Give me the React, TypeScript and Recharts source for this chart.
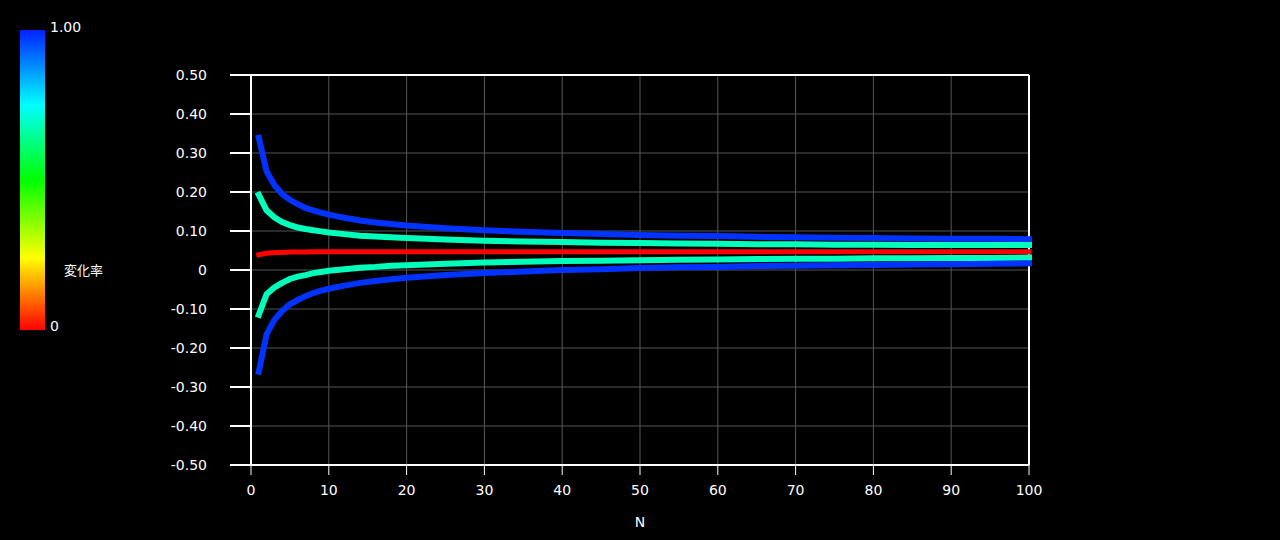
import { LineChart, Line, XAxis, YAxis, CartesianGrid, ReferenceLine } from 'recharts'

// sample sizes along the x axis
const nValues = [1, 2, 3, 4, 5, 6, 7, 8, 9, 10, 12, 14, 16, 18, 20, 25, 30, 35, 40, 45, 50, 55, 60, 65, 70, 75, 80, 85, 90, 95, 100]

// red centre line
const center = [0.039, 0.043, 0.045, 0.045, 0.046, 0.046, 0.046, 0.047, 0.047, 0.047, 0.047, 0.047, 0.047, 0.047, 0.047, 0.047, 0.047, 0.047, 0.047, 0.047, 0.047, 0.047, 0.047, 0.047, 0.047, 0.047, 0.047, 0.047, 0.047, 0.047, 0.047]

// outer (blue) band
const blueUpper = [0.339, 0.253, 0.218, 0.195, 0.180, 0.169, 0.159, 0.153, 0.147, 0.142, 0.134, 0.127, 0.122, 0.118, 0.114, 0.107, 0.102, 0.098, 0.095, 0.092, 0.090, 0.088, 0.087, 0.085, 0.084, 0.083, 0.082, 0.081, 0.080, 0.080, 0.079]
const blueLower = [-0.261, -0.165, -0.128, -0.105, -0.088, -0.077, -0.067, -0.059, -0.053, -0.048, -0.040, -0.033, -0.028, -0.024, -0.020, -0.013, -0.008, -0.004, 0.000, 0.002, 0.005, 0.007, 0.008, 0.010, 0.011, 0.012, 0.013, 0.014, 0.015, 0.016, 0.017]

// inner (green) band
const greenUpper = [0.193, 0.153, 0.135, 0.123, 0.115, 0.109, 0.105, 0.102, 0.099, 0.096, 0.092, 0.088, 0.086, 0.084, 0.082, 0.078, 0.075, 0.073, 0.072, 0.070, 0.069, 0.068, 0.067, 0.066, 0.066, 0.065, 0.065, 0.064, 0.064, 0.064, 0.064]
const greenLower = [-0.115, -0.062, -0.045, -0.033, -0.023, -0.017, -0.013, -0.008, -0.005, -0.002, 0.002, 0.006, 0.008, 0.011, 0.012, 0.016, 0.019, 0.021, 0.023, 0.024, 0.025, 0.026, 0.027, 0.028, 0.029, 0.029, 0.030, 0.030, 0.031, 0.031, 0.032]

const xTicks = [0, 10, 20, 30, 40, 50, 60, 70, 80, 90, 100]
const yTicks = [-0.5, -0.4, -0.3, -0.2, -0.1, 0, 0.1, 0.2, 0.3, 0.4, 0.5]

const data = nValues.map((n, i) => ({
  n,
  center: center[i],
  blueUpper: blueUpper[i],
  blueLower: blueLower[i],
  greenUpper: greenUpper[i],
  greenLower: greenLower[i],
}))

const font = '"DejaVu Sans", sans-serif'
const tickStyle = { fill: '#ffffff', fontSize: 14, fontFamily: font }

const BLUE = '#0033ff'
const GREEN = '#00ffbb'
const RED = '#ff0000'

export default function App() {
  return (
    <div style={{ position: 'fixed', left: 0, top: 0, width: 1280, height: 540, background: '#000', overflow: 'hidden', fontFamily: font }}>
      {/* colour scale legend */}
      <div
        style={{
          position: 'absolute',
          left: 20,
          top: 30,
          width: 25,
          height: 300,
          background: 'linear-gradient(to bottom, #0022ff 0%, #00ffff 25%, #00ff00 50%, #ffff00 76%, #ff0000 100%)',
        }}
      />
      <div style={{ position: 'absolute', left: 50, top: 19, color: '#fff', fontSize: 14 }}>1.00</div>
      <div style={{ position: 'absolute', left: 50, top: 318, color: '#fff', fontSize: 14 }}>0</div>
      <div style={{ position: 'absolute', left: 64, top: 260, color: '#fff', fontSize: 13, fontFamily: '"Noto Sans CJK JP", sans-serif' }}>変化率</div>

      <div style={{ position: 'absolute', left: 0, top: 0 }}>
        <LineChart width={1280} height={540} data={data} margin={{ top: 75, right: 251, bottom: 0, left: 0 }}>
          <CartesianGrid stroke="#555555" strokeWidth={1} />
          <XAxis
            type="number"
            dataKey="n"
            domain={[0, 100]}
            ticks={xTicks}
            tick={tickStyle}
            tickSize={10}
            tickMargin={10}
            height={75}
            stroke="#ffffff"
            tickLine={{ stroke: '#ffffff' }}
            axisLine={{ stroke: '#ffffff', strokeWidth: 2 }}
          />
          <YAxis
            type="number"
            domain={[-0.5, 0.5]}
            ticks={yTicks}
            tickFormatter={(v: number) => (v === 0 ? '0' : v.toFixed(2))}
            tick={tickStyle}
            tickSize={21}
            tickMargin={23}
            width={251}
            stroke="#ffffff"
            tickLine={{ stroke: '#ffffff', strokeWidth: 2 }}
            axisLine={{ stroke: '#ffffff', strokeWidth: 2 }}
          />
          <ReferenceLine y={0.5} stroke="#ffffff" strokeWidth={2} />
          <ReferenceLine x={100} stroke="#ffffff" strokeWidth={2} />
          <Line dataKey="blueUpper" stroke={BLUE} strokeWidth={6} strokeLinecap="square" dot={false} isAnimationActive={false} />
          <Line dataKey="greenUpper" stroke={GREEN} strokeWidth={6} strokeLinecap="square" dot={false} isAnimationActive={false} />
          <Line dataKey="greenLower" stroke={GREEN} strokeWidth={6} strokeLinecap="square" dot={false} isAnimationActive={false} />
          <Line dataKey="blueLower" stroke={BLUE} strokeWidth={6} strokeLinecap="square" dot={false} isAnimationActive={false} />
          <Line dataKey="center" stroke={RED} strokeWidth={5} strokeLinecap="square" dot={false} isAnimationActive={false} />
        </LineChart>
      </div>

      <div style={{ position: 'absolute', left: 0, width: 1280, top: 514, textAlign: 'center', color: '#fff', fontSize: 14 }}>N</div>
    </div>
  )
}
